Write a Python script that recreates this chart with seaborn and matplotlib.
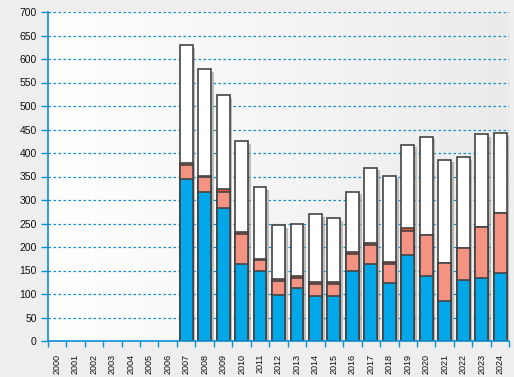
import numpy as np
import pandas as pd
import matplotlib
matplotlib.use("Agg")
import matplotlib.pyplot as plt
import matplotlib.patheffects as pe
import seaborn as sns

# values
years = [str(y) for y in range(2000, 2025)]
blue = [0] * 7 + [345, 318, 282, 163, 148, 97, 112, 96, 96, 150, 163, 123, 184, 138, 86, 129, 133, 144]
salmon = [0] * 7 + [29, 30, 36, 64, 24, 30, 23, 26, 26, 36, 42, 41, 51, 87, 79, 68, 109, 128]
thin = [0] * 7 + [5, 3, 6, 4, 3, 5, 3, 3, 3, 3, 3, 5, 5, 0, 0, 0, 0, 0]
white = [0] * 7 + [251, 227, 199, 194, 152, 114, 112, 145, 136, 129, 161, 183, 178, 210, 221, 194, 198, 170]

df = pd.DataFrame({"year": years, "blue": blue, "salmon": salmon, "thin": thin, "white": white})
df["c1"] = df["blue"]
df["c2"] = df["c1"] + df["salmon"]
df["c3"] = df["c2"] + df["thin"]
df["c4"] = df["c3"] + df["white"]

sns.set_style("white")
plt.rcParams["font.family"] = ["Liberation Sans", "DejaVu Sans"]

fig = plt.figure(figsize=(5.14, 3.77), dpi=100, facecolor="#eeeeee")
ax = fig.add_axes([47.7 / 514, 36 / 377, 461.6 / 514, 329 / 377])

# plot area gradient
grad = np.linspace(0, 1, 256).reshape(1, -1)
ax.imshow(grad, extent=[0, 1, 0, 1], transform=ax.transAxes, aspect="auto",
          cmap=matplotlib.colors.LinearSegmentedColormap.from_list("bg", ["#ffffff", "#ebebeb"]),
          zorder=0)

edge = "#444444"
layers = [("c4", "#ffffff"), ("c3", "#e8503a"), ("c2", "#f59383"), ("c1", "#00a8ea")]
for col, color in layers:
    sns.barplot(data=df, x="year", y=col, order=years, color=color, width=0.7,
                edgecolor=edge, linewidth=1.2, saturation=1, ax=ax, zorder=3)

# hide empty years, drop shadow on the outer bars
for i, p in enumerate(ax.patches):
    if p.get_height() <= 0:
        p.set_visible(False)
    elif i < len(years):
        p.set_path_effects([pe.SimplePatchShadow(offset=(2, -2), shadow_rgbFace="#999999", alpha=0.6),
                            pe.Normal()])

ax.set_xlim(-0.5, len(years) - 0.5)
ax.set_ylim(0, 700)
ax.set_yticks(range(0, 701, 50))
ax.set_xlabel("")
ax.set_ylabel("")

axis_blue = "#0a8fd0"
for y in range(50, 701, 50):
    ax.axhline(y, color=axis_blue, linestyle=(0, (2, 2)), linewidth=0.9, zorder=1)

for s in ["top", "right"]:
    ax.spines[s].set_visible(False)
for s in ["left", "bottom"]:
    ax.spines[s].set_visible(True)
    ax.spines[s].set_color(axis_blue)
    ax.spines[s].set_linewidth(1.2)
    ax.spines[s].set_zorder(5)

ax.tick_params(axis="y", left=True, length=5, width=1, color=axis_blue, labelsize=7.5, pad=3,
               labelcolor="#111111")
ax.set_xticks(range(len(years)))
ax.set_xticklabels(years, rotation=90)
ax.tick_params(axis="x", which="major", bottom=True, length=0, labelsize=6.5, pad=9,
               labelcolor="#111111")
ax.set_xticks(np.arange(-0.5, len(years), 1), minor=True)
ax.tick_params(axis="x", which="minor", bottom=True, length=4, width=1, color=axis_blue)

fig.savefig("out.png", dpi=100, facecolor=fig.get_facecolor())
